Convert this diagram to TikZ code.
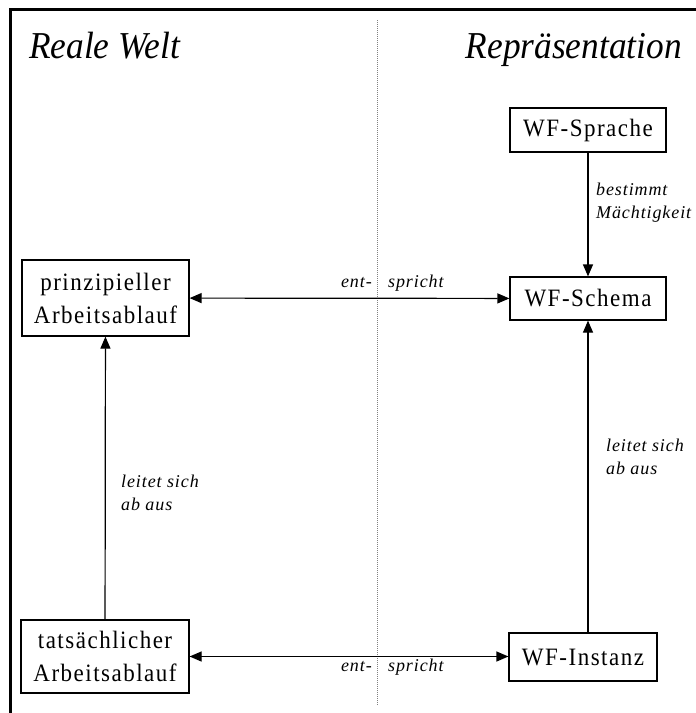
\documentclass[tikz,border=0pt]{standalone}
\usepackage{fontspec}
\setmainfont{Liberation Serif}
\newfontfamily\boxfont[FakeStretch=0.92,LetterSpace=6]{Liberation Serif}
\newfontfamily\labelfont[LetterSpace=5]{Liberation Serif}
\newfontfamily\titlefont[FakeStretch=0.93]{Liberation Serif}
\usetikzlibrary{arrows.meta}
\usetikzlibrary{calc}

\begin{document}
\begin{tikzpicture}[x=1pt,y=-1pt,
  wfbox/.style={draw, line width=1.2pt, inner sep=0pt, align=center,
    font=\boxfont\fontsize{25}{33}\selectfont},
  rel/.style={line width=1.2pt, -{Triangle[length=12pt,width=10pt]}},
  relboth/.style={line width=1.2pt,
    {Triangle[length=12pt,width=10pt]}-{Triangle[length=12pt,width=10pt]}},
  lbl/.style={font=\labelfont\itshape\fontsize{18}{23}\selectfont,
    align=left, inner sep=0pt},
  title/.style={font=\titlefont\itshape\fontsize{38}{42}\selectfont, inner sep=0pt}]
\useasboundingbox (0,0) rectangle (696,713);
\draw [line width=3pt] (10.5,713) -- (10.5,9.5) -- (696,9.5);
\draw [gray, line width=0.8pt, dash pattern=on 1pt off 1pt] (377,20) -- (377,705);

\node [title, anchor=base west] (realwelt) at (29,58) {Reale Welt};
\node [title, anchor=base east] (repr) at (682,58) {Repräsentation};

\node [wfbox, minimum width=167, minimum height=76] (prinz) at (105.5,298) {prinzipieller\\Arbeitsablauf};
\node [wfbox, minimum width=168, minimum height=73] (tats) at (105,656.5) {tatsächlicher\\Arbeitsablauf};
\node [wfbox, minimum width=156, minimum height=44] (sprache) at (588,130) {WF-Sprache};
\node [wfbox, minimum width=156, minimum height=43] (schema) at (588,298.5) {WF-Schema};
\node [wfbox, minimum width=148, minimum height=48] (instanz) at (583,657) {WF-Instanz};

\draw [rel] (sprache) -- (schema);
\draw [relboth] (prinz) -- (schema);
\draw [relboth] (tats.east) -- (tats.east -| instanz.west);
\draw [rel] (tats) -- (prinz);
\draw [rel] (schema.south |- instanz.north) -- (schema);

\node [lbl, anchor=west] (bestimmt) at (596,203) {bestimmt\\Mächtigkeit};
\node [lbl, anchor=west] (leitetl) at (121,493) {leitet sich\\ab aus};
\node [lbl, anchor=west] (leitetr) at (606,457) {leitet sich\\ab aus};
\node [lbl, anchor=base east] (ento) at (372,287) {ent-};
\node [lbl, anchor=base west] (sprichto) at (388,287) {spricht};
\node [lbl, anchor=base east] (entu) at (372,671) {ent-};
\node [lbl, anchor=base west] (sprichtu) at (388,671) {spricht};
\end{tikzpicture}
\end{document}
